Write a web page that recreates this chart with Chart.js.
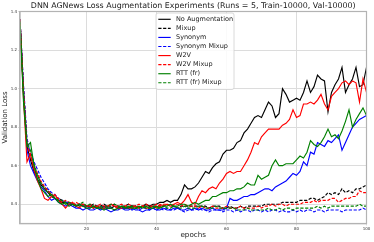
<!DOCTYPE html>
<html>
<head>
<meta charset="utf-8">
<script src="https://cdn.jsdelivr.net/npm/chart.js@4.4.1/dist/chart.umd.min.js"></script>
<style>
  html, body { margin: 0; padding: 0; background: #fff; }
  #wrap { width: 374px; height: 242px; }
</style>
</head>
<body>
<div id="wrap"><canvas id="lossChart" width="374" height="242"></canvas></div>
<script>
// epochs 1..100 on the x axis
const epochs = Array.from({ length: 100 }, (_, i) => i + 1);

const noAugmentation = [
  1.36, 0.98, 0.70, 0.63, 0.57, 0.53, 0.50, 0.48, 0.46, 0.44,
  0.43, 0.42, 0.41, 0.41, 0.40, 0.40, 0.39, 0.40, 0.39, 0.39,
  0.39, 0.38, 0.39, 0.38, 0.39, 0.38, 0.38, 0.39, 0.38, 0.38,
  0.38, 0.38, 0.39, 0.39, 0.38, 0.39, 0.40, 0.39, 0.40, 0.40,
  0.41, 0.41, 0.42, 0.41, 0.42, 0.42, 0.45, 0.50, 0.48, 0.48,
  0.49, 0.51, 0.54, 0.57, 0.56, 0.59, 0.61, 0.62, 0.66, 0.68,
  0.68, 0.69, 0.72, 0.73, 0.77, 0.79, 0.82, 0.85, 0.86, 0.85,
  0.89, 0.93, 0.91, 0.85, 0.87, 1.00, 0.97, 0.93, 0.94, 0.95,
  0.94, 0.98, 1.04, 0.98, 1.01, 1.07, 1.05, 1.04, 0.88, 0.98,
  1.02, 1.05, 1.11, 0.98, 1.02, 1.05, 1.11, 1.01, 1.02, 1.11
];
const mixup = [
  1.36, 1.00, 0.72, 0.65, 0.58, 0.55, 0.51, 0.49, 0.47, 0.45,
  0.44, 0.43, 0.42, 0.41, 0.41, 0.40, 0.40, 0.39, 0.40, 0.39,
  0.39, 0.40, 0.39, 0.39, 0.40, 0.39, 0.39, 0.40, 0.39, 0.39,
  0.39, 0.40, 0.39, 0.39, 0.38, 0.39, 0.39, 0.39, 0.39, 0.39,
  0.39, 0.39, 0.40, 0.39, 0.39, 0.38, 0.39, 0.39, 0.39, 0.39,
  0.39, 0.39, 0.39, 0.39, 0.38, 0.39, 0.39, 0.39, 0.38, 0.38,
  0.39, 0.38, 0.38, 0.39, 0.38, 0.39, 0.39, 0.39, 0.39, 0.39,
  0.40, 0.40, 0.40, 0.40, 0.40, 0.41, 0.41, 0.41, 0.41, 0.41,
  0.42, 0.42, 0.42, 0.43, 0.43, 0.42, 0.43, 0.44, 0.46, 0.45,
  0.46, 0.45, 0.48, 0.46, 0.47, 0.46, 0.48, 0.48, 0.49, 0.50
];
const synonym = [
  1.35, 0.97, 0.68, 0.60, 0.56, 0.52, 0.49, 0.47, 0.44, 0.42,
  0.43, 0.41, 0.40, 0.39, 0.40, 0.39, 0.38, 0.38, 0.37, 0.38,
  0.37, 0.37, 0.38, 0.37, 0.38, 0.37, 0.36, 0.37, 0.37, 0.38,
  0.37, 0.37, 0.38, 0.37, 0.37, 0.36, 0.37, 0.37, 0.38, 0.37,
  0.37, 0.38, 0.37, 0.37, 0.38, 0.38, 0.37, 0.37, 0.38, 0.37,
  0.38, 0.37, 0.38, 0.37, 0.37, 0.38, 0.37, 0.37, 0.37, 0.38,
  0.43, 0.42, 0.42, 0.43, 0.44, 0.44, 0.45, 0.45, 0.46, 0.47,
  0.48, 0.48, 0.47, 0.49, 0.50, 0.51, 0.52, 0.54, 0.56, 0.55,
  0.57, 0.62, 0.60, 0.67, 0.66, 0.72, 0.71, 0.70, 0.73, 0.72,
  0.74, 0.76, 0.68, 0.72, 0.76, 0.80, 0.82, 0.84, 0.85, 0.86
];
const synonymMixup = [
  1.36, 1.02, 0.74, 0.67, 0.62, 0.58, 0.54, 0.51, 0.48, 0.46,
  0.45, 0.43, 0.42, 0.41, 0.41, 0.40, 0.39, 0.40, 0.39, 0.39,
  0.38, 0.39, 0.38, 0.38, 0.39, 0.38, 0.38, 0.37, 0.38, 0.39,
  0.38, 0.38, 0.37, 0.38, 0.37, 0.38, 0.38, 0.37, 0.38, 0.37,
  0.38, 0.37, 0.38, 0.37, 0.37, 0.38, 0.37, 0.36, 0.37, 0.37,
  0.37, 0.38, 0.37, 0.37, 0.36, 0.37, 0.37, 0.37, 0.36, 0.37,
  0.37, 0.36, 0.37, 0.36, 0.37, 0.37, 0.36, 0.37, 0.37, 0.36,
  0.37, 0.36, 0.37, 0.37, 0.36, 0.37, 0.36, 0.36, 0.37, 0.36,
  0.37, 0.36, 0.37, 0.37, 0.36, 0.37, 0.37, 0.36, 0.37, 0.37,
  0.37, 0.37, 0.36, 0.37, 0.37, 0.37, 0.37, 0.37, 0.38, 0.37
];
const w2v = [
  1.35, 0.95, 0.62, 0.66, 0.58, 0.52, 0.48, 0.43, 0.42, 0.44,
  0.45, 0.42, 0.40, 0.38, 0.40, 0.41, 0.39, 0.38, 0.40, 0.39,
  0.39, 0.38, 0.39, 0.38, 0.38, 0.39, 0.40, 0.39, 0.38, 0.38,
  0.39, 0.38, 0.38, 0.39, 0.38, 0.39, 0.38, 0.38, 0.39, 0.38,
  0.40, 0.39, 0.40, 0.39, 0.40, 0.41, 0.40, 0.42, 0.45, 0.41,
  0.40, 0.44, 0.47, 0.46, 0.48, 0.49, 0.48, 0.51, 0.53, 0.56,
  0.57, 0.56, 0.57, 0.57, 0.60, 0.63, 0.67, 0.72, 0.71, 0.75,
  0.77, 0.79, 0.79, 0.79, 0.79, 0.81, 0.82, 0.84, 0.89, 0.85,
  0.86, 0.92, 0.92, 0.93, 0.92, 0.94, 0.97, 0.92, 0.89, 0.96,
  0.98, 1.00, 1.03, 1.04, 1.02, 1.04, 1.03, 0.93, 1.05, 0.98
];
const w2vMixup = [
  1.36, 0.99, 0.71, 0.65, 0.60, 0.56, 0.52, 0.49, 0.47, 0.45,
  0.44, 0.43, 0.41, 0.42, 0.41, 0.40, 0.41, 0.40, 0.40, 0.39,
  0.40, 0.39, 0.39, 0.40, 0.39, 0.39, 0.40, 0.39, 0.39, 0.40,
  0.39, 0.40, 0.39, 0.39, 0.40, 0.39, 0.40, 0.39, 0.39, 0.40,
  0.39, 0.40, 0.40, 0.39, 0.40, 0.40, 0.39, 0.40, 0.39, 0.39,
  0.39, 0.38, 0.39, 0.38, 0.38, 0.39, 0.38, 0.38, 0.38, 0.39,
  0.38, 0.38, 0.38, 0.39, 0.38, 0.38, 0.38, 0.38, 0.39, 0.38,
  0.39, 0.39, 0.40, 0.39, 0.40, 0.40, 0.39, 0.40, 0.40, 0.40,
  0.40, 0.41, 0.41, 0.41, 0.42, 0.41, 0.42, 0.42, 0.42, 0.43,
  0.43, 0.41, 0.42, 0.43, 0.43, 0.44, 0.44, 0.47, 0.46, 0.46
];
const rttFr = [
  1.34, 0.93, 0.70, 0.72, 0.60, 0.53, 0.48, 0.46, 0.44, 0.45,
  0.43, 0.41, 0.40, 0.41, 0.39, 0.40, 0.39, 0.40, 0.39, 0.38,
  0.38, 0.39, 0.38, 0.38, 0.37, 0.38, 0.38, 0.37, 0.38, 0.39,
  0.38, 0.39, 0.38, 0.38, 0.39, 0.38, 0.39, 0.38, 0.38, 0.39,
  0.38, 0.39, 0.39, 0.40, 0.39, 0.39, 0.40, 0.40, 0.39, 0.40,
  0.41, 0.40, 0.41, 0.42, 0.42, 0.44, 0.44, 0.45, 0.46, 0.46,
  0.47, 0.47, 0.48, 0.48, 0.49, 0.51, 0.50, 0.50, 0.55, 0.53,
  0.54, 0.55, 0.60, 0.63, 0.60, 0.60, 0.61, 0.61, 0.61, 0.63,
  0.65, 0.64, 0.67, 0.73, 0.71, 0.70, 0.72, 0.75, 0.79, 0.75,
  0.76, 0.74, 0.78, 0.83, 0.89, 0.80, 0.84, 0.87, 0.90, 0.86
];
const rttFrMixup = [
  1.35, 0.98, 0.71, 0.68, 0.61, 0.55, 0.51, 0.48, 0.46, 0.45,
  0.43, 0.42, 0.42, 0.40, 0.41, 0.40, 0.39, 0.40, 0.41, 0.39,
  0.40, 0.39, 0.38, 0.39, 0.38, 0.39, 0.40, 0.40, 0.39, 0.38,
  0.39, 0.38, 0.39, 0.38, 0.38, 0.39, 0.38, 0.38, 0.39, 0.38,
  0.38, 0.39, 0.38, 0.38, 0.39, 0.38, 0.38, 0.39, 0.38, 0.38,
  0.38, 0.39, 0.39, 0.38, 0.38, 0.38, 0.39, 0.38, 0.38, 0.38,
  0.38, 0.38, 0.37, 0.37, 0.37, 0.38, 0.37, 0.37, 0.37, 0.37,
  0.37, 0.38, 0.37, 0.37, 0.38, 0.37, 0.38, 0.38, 0.37, 0.38,
  0.38, 0.38, 0.38, 0.38, 0.38, 0.39, 0.38, 0.39, 0.38, 0.39,
  0.39, 0.39, 0.39, 0.39, 0.39, 0.39, 0.39, 0.40, 0.39, 0.39
];

const seriesNames = ['No Augmentation', 'Mixup', 'Synonym', 'Synonym Mixup',
                     'W2V', 'W2V Mixup', 'RTT (fr)', 'RTT (fr) Mixup'];
const seriesValues = [noAugmentation, mixup, synonym, synonymMixup,
                      w2v, w2vMixup, rttFr, rttFrMixup];
const seriesColors = ['#000000', '#000000', '#0000ff', '#0000ff',
                      '#ff0000', '#ff0000', '#008000', '#008000'];
const seriesDashed = [false, true, false, true, false, true, false, true];

const xTicks = [20, 40, 60, 80, 100];
const yTicks = [0.4, 0.6, 0.8, 1.0, 1.2, 1.4];

const chartTitle = 'DNN AGNews Loss Augmentation Experiments (Runs = 5, Train-10000, Val-10000)';
const DASH = [3.2, 1.6];
const FONT = 'DejaVu Sans';

const datasets = seriesNames.map((name, i) => ({
  label: name,
  data: epochs.map((e, j) => ({ x: e, y: seriesValues[i][j] })),
  borderColor: seriesColors[i],
  backgroundColor: seriesColors[i],
  borderWidth: 1.15,
  borderDash: seriesDashed[i] ? DASH : [],
  pointRadius: 0,
  tension: 0,
  fill: false,
  order: seriesNames.length - i  // later series on top, like matplotlib
}));

// title above the plot, frame around it, and the legend box inside
const decorations = {
  id: 'decorations',
  afterDatasetsDraw(chart) {
    const { ctx, chartArea: a } = chart;
    ctx.save();
    ctx.strokeStyle = '#b3b3b3';
    ctx.lineWidth = 1.2;
    ctx.strokeRect(a.left, a.top, a.right - a.left, a.bottom - a.top);
    ctx.restore();
  },
  afterDraw(chart) {
    const { ctx, chartArea: a } = chart;
    ctx.save();
    ctx.fillStyle = '#1a1a1a';
    ctx.font = '7.9px "' + FONT + '"';
    ctx.textAlign = 'center';
    ctx.textBaseline = 'middle';
    ctx.fillText(chartTitle, (a.left + a.right) / 2, 5.8);

    // legend
    const bx = a.left + 136, by = a.top + 1.5, bw = 78, bh = 76.5;
    ctx.fillStyle = 'rgba(255,255,255,0.85)';
    ctx.strokeStyle = '#d0d0d0';
    ctx.lineWidth = 0.8;
    ctx.beginPath();
    ctx.roundRect(bx, by, bw, bh, 2);
    ctx.fill();
    ctx.stroke();

    ctx.font = '6.5px "' + FONT + '"';
    ctx.textAlign = 'left';
    ctx.lineWidth = 1.15;
    seriesNames.forEach((name, i) => {
      const y = by + 6.3 + i * 9.07;
      ctx.strokeStyle = seriesColors[i];
      ctx.setLineDash(seriesDashed[i] ? DASH : []);
      ctx.beginPath();
      ctx.moveTo(bx + 2.3, y);
      ctx.lineTo(bx + 14.7, y);
      ctx.stroke();
      ctx.fillStyle = '#1a1a1a';
      ctx.fillText(name, bx + 20, y);
    });
    ctx.restore();
  }
};

new Chart(document.getElementById('lossChart'), {
  type: 'line',
  data: { datasets: datasets },
  options: {
    responsive: false,
    animation: false,
    devicePixelRatio: 1,
    layout: { padding: { top: 11.5, right: 7.5, bottom: 0, left: 0 } },
    plugins: {
      legend: { display: false },
      title: { display: false },
      tooltip: { enabled: false }
    },
    scales: {
      x: {
        type: 'linear',
        min: 1,
        max: 100,
        afterFit: s => { s.height = 18.5; },
        afterBuildTicks: s => { s.ticks = xTicks.map(v => ({ value: v })); },
        grid: { color: '#dcdcdc', lineWidth: 1, tickLength: 2, drawTicks: true },
        border: { color: '#b3b3b3', width: 1.2 },
        ticks: {
          font: { family: FONT, size: 4 },
          color: '#333',
          padding: 1,
          maxRotation: 0,
          callback: v => String(v)
        },
        title: {
          display: true,
          text: 'epochs',
          font: { family: FONT, size: 7.2 },
          color: '#1a1a1a',
          padding: { top: 0, bottom: 3 }
        }
      },
      y: {
        min: 0.3,
        max: 1.4,
        afterFit: s => { s.width = 20; },
        afterBuildTicks: s => { s.ticks = yTicks.map(v => ({ value: v })); },
        grid: { color: '#dcdcdc', lineWidth: 1, tickLength: 2 },
        border: { color: '#b3b3b3', width: 1.2 },
        ticks: {
          font: { family: FONT, size: 4 },
          color: '#333',
          padding: 1,
          callback: v => v.toFixed(1)
        },
        title: {
          display: true,
          text: 'Validation Loss',
          font: { family: FONT, size: 7 },
          color: '#1a1a1a',
          padding: { top: 1.4, bottom: 0 }
        }
      }
    }
  },
  plugins: [decorations]
});
</script>
</body>
</html>
